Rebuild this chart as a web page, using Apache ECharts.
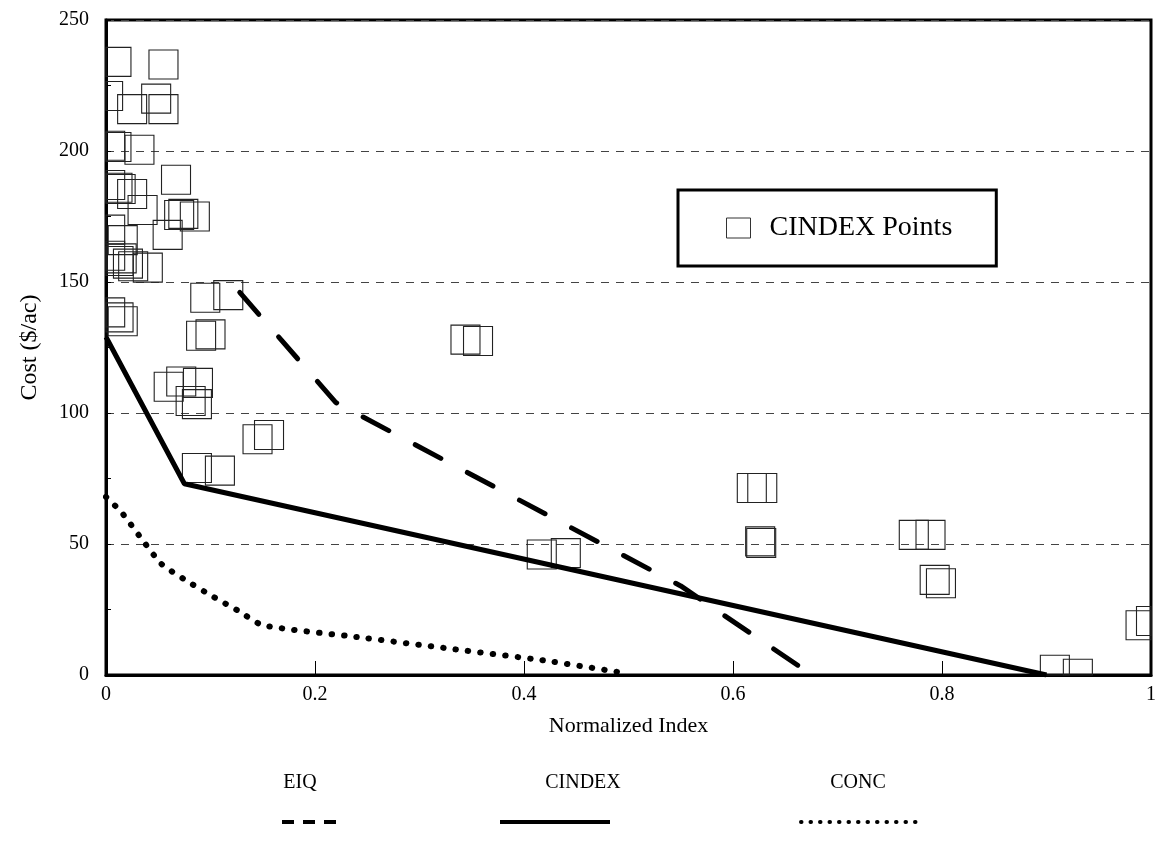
<!DOCTYPE html>
<html><head><meta charset="utf-8">
<script src="https://cdn.jsdelivr.net/npm/echarts@6/dist/echarts.min.js"></script>
<style>html,body{margin:0;padding:0;background:#fff}#c{width:1159px;height:867px}</style>
</head><body><div id="c"></div><script>
// CINDEX points (Normalized Index, Cost $/ac)
const pointX = [0.010,0.055,0.002,0.025,0.048,0.055,
  0.004,0.010,0.032,0.067,
  0.004,0.011,0.014,0.025,0.035,
  0.070,0.074,0.085,0.059,0.004,0.016,
  0.004,0.012,0.015,0.021,0.026,0.040,
  0.095,0.117,0.004,0.012,0.016,0.091,0.100,
  0.060,0.072,0.088,0.081,0.087,
  0.087,0.109,0.145,0.156,0.344,0.356,
  0.417,0.440,0.618,0.628,0.627,0.626,
  0.773,0.789,0.793,0.799,0.990,1.000,0.908,0.930];
const pointY = [234,233,221,216,220,216,
  202,201.5,200.5,189,
  187,186,185.5,183.6,177.5,
  175.6,176,175,168,170,166,
  160,158,159,157,156,155.5,
  144,145,138.4,136.5,135,129.5,130,
  110,112,111.5,104.6,103.4,
  79,78,90,91.6,128,127.5,
  46,46.5,71.4,71.4,50.4,51,
  53.5,53.5,36.3,35,19,20.6,2,0.5];
// Frontier lines
const eiqX = [0.128,0.22,0.55,0.672];
const eiqY = [146,104,34,1];
const cindexX = [0,0.075,0.9];
const cindexY = [129,73,0];
const concX = [0,0.015,0.034,0.053,0.077,0.102,0.127,0.15,0.24,0.33,0.42,0.5];
const concY = [68,62,52,42.4,36,30,24.4,19,14.5,10,5.5,0.5];
const xTickLabels = ['0','0.2','0.4','0.6','0.8','1'];

const zip = (a,b) => a.map((v,i)=>[v,b[i]]);
const FONT = '"Liberation Serif", "DejaVu Serif", serif';
const chart = echarts.init(document.getElementById('c'));
const SQ = 29;
chart.setOption({
  animation:false,
  backgroundColor:'#fff',
  textStyle:{fontFamily:FONT,color:'#000'},
  grid:{left:106,right:7,top:20,bottom:192,show:true,borderColor:'#000',borderWidth:3,backgroundColor:'transparent'},
  xAxis:{type:'value',min:0,max:1,interval:0.2,
    axisLine:{lineStyle:{color:'#000',width:3}},
    axisTick:{inside:true,length:14,lineStyle:{color:'#000',width:1}},
    axisLabel:{fontFamily:FONT,fontSize:20,color:'#000',margin:10,
      formatter:(v)=>xTickLabels[Math.round(v/0.2)]},
    splitLine:{show:false},
    name:'Normalized Index',nameLocation:'middle',nameGap:40,
    nameTextStyle:{fontFamily:FONT,fontSize:22,color:'#000'}},
  yAxis:{type:'value',min:0,max:250,interval:50,
    axisLine:{lineStyle:{color:'#000',width:3}},
    axisTick:{inside:true,length:5,lineStyle:{color:'#000'}},
    minorTick:{show:true,splitNumber:2,length:5,lineStyle:{color:'#000'}},
    axisLabel:{fontFamily:FONT,fontSize:20,color:'#000',margin:17},
    splitLine:{show:true,lineStyle:{color:'#444',width:1,type:[8,7]}},
    name:'Cost ($/ac)',nameLocation:'middle',nameGap:64,
    nameTextStyle:{fontFamily:FONT,fontSize:24,color:'#000'}},
  legend:{data:[{name:'CINDEX Points',icon:'rect',itemStyle:{color:'#fff',borderColor:'#333',borderWidth:1}}],
    left:678,top:190,orient:'vertical',
    itemWidth:24,itemHeight:20,itemGap:0,
    padding:[24,44,24,48],
    borderColor:'#000',borderWidth:3,backgroundColor:'#fff',
    textStyle:{fontFamily:FONT,fontSize:28,color:'#000',padding:[0,0,0,14]}},
  graphic:[
    {type:'text',x:300,y:783,style:{text:'EIQ',font:'20px '+FONT,fill:'#000',textAlign:'center',textVerticalAlign:'middle'}},
    {type:'text',x:583,y:783,style:{text:'CINDEX',font:'20px '+FONT,fill:'#000',textAlign:'center',textVerticalAlign:'middle'}},
    {type:'text',x:858,y:783,style:{text:'CONC',font:'20px '+FONT,fill:'#000',textAlign:'center',textVerticalAlign:'middle'}},
    {type:'line',shape:{x1:282,y1:822,x2:336,y2:822},style:{stroke:'#000',lineWidth:4,lineDash:[12,9]}},
    {type:'line',shape:{x1:500,y1:822,x2:610,y2:822},style:{stroke:'#000',lineWidth:4}},
    {type:'line',shape:{x1:801,y1:822,x2:918,y2:822},style:{stroke:'#000',lineWidth:4,lineDash:[0.5,9],lineCap:'round'}}
  ],
  series:[
    {name:'CINDEX Points',type:'custom',data:zip(pointX,pointY),z:2,
      renderItem:function(params,api){
        const p = api.coord([api.value(0),api.value(1)]);
        const cs = params.coordSys;
        const r = echarts.graphic.clipRectByRect({x:p[0]-SQ/2,y:p[1]-SQ/2,width:SQ,height:SQ},
          {x:cs.x,y:cs.y,width:cs.width,height:cs.height});
        if(!r) return null;
        return {type:'rect',shape:r,style:{fill:'none',stroke:'#222',lineWidth:1.1}};
      }},
    {name:'EIQ',type:'line',data:zip(eiqX,eiqY),symbol:'none',z:3,
      lineStyle:{color:'#000',width:5,type:[29,30],cap:'round'}},
    {name:'CINDEX',type:'line',data:zip(cindexX,cindexY),symbol:'none',z:3,
      lineStyle:{color:'#000',width:5}},
    {name:'CONC',type:'line',data:zip(concX,concY),symbol:'none',z:3,smooth:0.2,
      lineStyle:{color:'#000',width:6,type:[0.5,12],cap:'round'}}
  ]
});
</script></body></html>
